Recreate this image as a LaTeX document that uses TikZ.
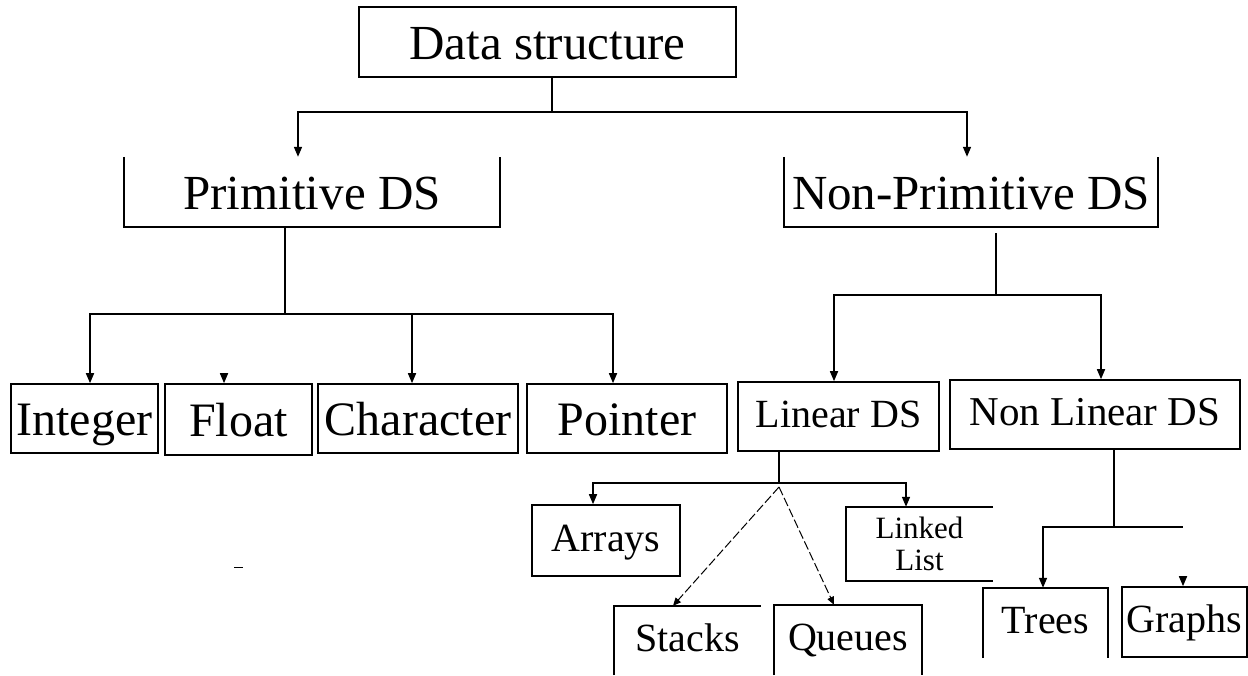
\documentclass[tikz,border=0pt]{standalone}
\usepackage{fontspec}
\setmainfont{Liberation Serif}
\usetikzlibrary{arrows.meta}

\tikzset{
  box/.style={draw, line width=1.6pt, inner sep=0pt},
  openbox/.style={inner sep=0pt},
  link/.style={line width=1.6pt},
  arr/.style={line width=1.6pt, -{Triangle[length=10pt,width=8pt]}},
  dasharr/.style={line width=1pt, dash pattern=on 9pt off 3pt, -{Triangle[length=8pt,width=7pt]}},
  toptext/.style={font=\fontsize{49}{49}\selectfont, text height=35pt, text depth=0pt},
  leaftext/.style={font=\fontsize{48}{48}\selectfont, text height=34.5pt, text depth=0pt},
  subtext/.style={font=\fontsize{40}{40}\selectfont, text height=25pt, text depth=4pt},
}

\begin{document}
\begin{tikzpicture}[x=1pt, y=-1pt]
  \path[use as bounding box, fill=white] (0,0) rectangle (1248,675);

  % Root
  \node[box, toptext, minimum width=377pt, minimum height=70pt] (ds) at (547.5,42) {Data structure};

  % Second level (boxes open at the top)
  \node[openbox, toptext, minimum width=376pt, minimum height=70pt] (prim) at (312,192) {Primitive DS};
  \node[openbox, toptext, minimum width=374pt, minimum height=70pt] (nonprim) at (971,192) {Non-Primitive DS};
  \draw[link] (prim.north west) |- (prim.south east) -- (prim.north east);
  \draw[link] (nonprim.north west) |- (nonprim.south east) -- (nonprim.north east);

  % Primitive types
  \node[box, leaftext, minimum width=147pt, minimum height=69pt] (integer) at (84.5,418.5) {Integer};
  \node[box, leaftext, minimum width=147pt, minimum height=71pt] (float) at (238.5,419.5) {Float};
  \node[box, leaftext, minimum width=200pt, minimum height=69pt] (character) at (418,418.5) {Character};
  \node[box, leaftext, minimum width=200pt, minimum height=69pt] (pointer) at (627,418.5) {Pointer};

  % Non-primitive types
  \node[box, subtext, minimum width=201pt, minimum height=69pt] (linear) at (838.5,416.5) {Linear DS};
  \node[box, subtext, font=\fontsize{41}{41}\selectfont, minimum width=290pt, minimum height=69pt] (nonlinear) at (1095,414.5) {Non Linear DS};

  % Linear structures
  \node[box, subtext, minimum width=148pt, minimum height=71pt] (arrays) at (606,540.5) {Arrays};
  \node[openbox, font=\fontsize{31}{32}\selectfont, align=center, minimum width=147pt, minimum height=71pt] (linked) at (919.5,544) {Linked\\List};
  \draw[link] ([yshift=1.5pt]linked.north east) -| ([yshift=-1.5pt]linked.south west) -- ([yshift=-1.5pt]linked.south east);
  \node[openbox, subtext, minimum width=147pt, minimum height=69pt] (stacks) at (687.5,640.5) {Stacks};
  \draw[link] (stacks.south west) |- (stacks.north east);
  \node[openbox, subtext, minimum width=148pt, minimum height=70pt] (queues) at (848,640) {Queues};
  \draw[link] (queues.south west) |- (queues.north east) -- (queues.south east);

  % Non linear structures
  \node[openbox, subtext, minimum width=125pt, minimum height=70pt] (trees) at (1045.5,623) {Trees};
  \draw[link] (trees.south west) |- (trees.north east) -- (trees.south east);
  \node[box, subtext, minimum width=125pt, minimum height=70pt] (graphs) at (1184.5,622) {Graphs};

  % Root to second level
  \coordinate (dsfork) at (552,112);
  \draw[link] ([xshift=4.5pt]ds.south) -- (dsfork);
  \draw[arr] (dsfork) -| ([xshift=-14pt]prim.north);
  \draw[arr] (dsfork) -| ([xshift=-4pt]nonprim.north);

  % Primitive branch
  \coordinate (primfork) at (285,314);
  \draw[link] ([xshift=-27pt]prim.south) -- (primfork);
  \draw[arr] (primfork) -| ([xshift=5.5pt]integer.north);
  \draw[arr] (primfork) -| ([xshift=-14pt]pointer.north);
  \draw[arr] ([xshift=-6pt]character.north |- primfork) -- ([xshift=-6pt]character.north);
  \draw[arr] ([xshift=-14.5pt,yshift=10pt]float.north) -- ([xshift=-14.5pt]float.north);

  % Non-primitive branch
  \coordinate (npfork) at (996,295);
  \draw[link] ([xshift=25pt,yshift=-6pt]nonprim.south) -- (npfork);
  \draw[arr] (npfork) -| ([xshift=-4.5pt]linear.north);
  \draw[arr] (npfork) -| ([xshift=6pt]nonlinear.north);

  % Linear branch
  \coordinate (linfork) at (779,483);
  \draw[link] ([xshift=-59.5pt]linear.south) -- (linfork);
  \draw[arr] (linfork) -| ([xshift=-13pt]arrays.north);
  \draw[arr] (linfork) -| ([xshift=-13.5pt,yshift=1.5pt]linked.north);
  \draw[dasharr] ([yshift=-4pt]linfork) -- ([xshift=-14.5pt]stacks.north);
  \draw[dasharr] ([yshift=-4pt]linfork) -- ([xshift=-14pt]queues.north);

  % Non linear branch
  \coordinate (nlfork) at (1114,527);
  \coordinate (nlend) at (1183,527);
  \draw[link] ([xshift=19pt]nonlinear.south) -- (nlfork);
  \draw[arr] (nlfork) -| ([xshift=-2.5pt]trees.north);
  \draw[link] (nlfork) -- (nlend);
  \draw[arr] ([xshift=-1.5pt,yshift=10pt]graphs.north) -- ([xshift=-1.5pt]graphs.north);

  % stray mark
  \draw[line width=1pt] (234,567) -- (243,567);
\end{tikzpicture}
\end{document}
